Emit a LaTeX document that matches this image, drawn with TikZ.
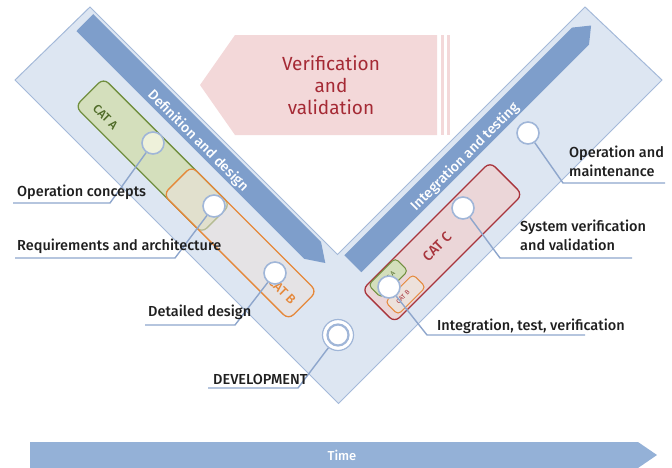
\documentclass[tikz,border=0pt]{standalone}
\usepackage{fontspec}
\setmainfont{Fira Sans}[BoldFont={Fira Sans Medium}]
\definecolor{armfill}{HTML}{DDE6F2}
\definecolor{armdraw}{HTML}{A4B9D9}
\definecolor{bandcol}{HTML}{7E9ECB}
\definecolor{timecol}{HTML}{94B1D7}
\definecolor{pinkfill}{HTML}{F3D8D9}
\definecolor{pinktext}{HTML}{A52A35}
\definecolor{greenfill}{HTML}{D4DFBC}
\definecolor{greendraw}{HTML}{718F3F}
\definecolor{greentext}{HTML}{4F6B28}
\definecolor{orangedraw}{HTML}{E5883A}
\definecolor{orangefill}{HTML}{EDE1DB}
\definecolor{redfill}{HTML}{EBD6D8}
\definecolor{reddraw}{HTML}{A8343C}
\definecolor{circdraw}{HTML}{A0B6D8}
\definecolor{leadcol}{HTML}{8EA6CC}
\definecolor{labtext}{HTML}{1F1F1F}
\begin{document}
\begin{tikzpicture}[x=1pt,y=-1pt,
  catbox/.style={draw, line width=1.3pt, rounded corners=7pt, inner sep=0pt},
  dot/.style={circle, draw=circdraw, line width=1.6pt, fill=white, minimum size=22pt, inner sep=0pt},
  lbl/.style={anchor=west, inner sep=0pt, text=labtext, font=\fontsize{14.5}{19}\selectfont\bfseries, align=left},
  lead/.style={draw=leadcol, line width=1.4pt},
  bandtext/.style={text=white, font=\fontsize{14}{16}\selectfont\bfseries, inner sep=0pt}
]
\useasboundingbox (0,0) rectangle (672,467);
% V shape
\draw[fill=armfill, draw=armdraw, line width=1pt]
  (15,80) -- (90,7) -- (337.5,254.5) -- (585,7) -- (662,80) -- (338.5,403.5) -- cycle;
% dark bands
\fill[bandcol] (76.4,31.1) -- (93.3,14.1) -- (321.0,241.8) -- (325.3,263.0) -- (304.1,258.8) -- cycle;
\fill[bandcol] (344.4,255.3) -- (361.3,272.2) -- (589.0,44.5) -- (591.1,25.5) -- (572.0,27.6) -- cycle;
\node[bandtext, rotate=-45] (tdef) at (198,141) {Definition and design};
\node[bandtext, rotate=45] (tint) at (465,157) {Integration and testing};
% pink verification arrow
\fill[pinkfill] (200,85) -- (235,35) -- (437,35) -- (437,135) -- (235,135) -- cycle;
\fill[pinkfill] (441,35) rectangle (444,135);
\fill[pinkfill] (447,35) rectangle (450,135);
\node[text=pinktext, align=center, font=\fontsize{19}{22}\selectfont] (vv) at (331,85) {Verification\\and\\validation};
% CAT boxes
\node[catbox, draw=greendraw, fill=greenfill, rotate=-45, minimum width=179pt, minimum height=40pt] (ca) at (152.7,155.6) {};
\node[catbox, draw=orangedraw, fill=orangefill, fill opacity=0.55, rotate=-45, minimum width=177pt, minimum height=40pt] (cb) at (240.1,242.9) {};
\node[text=greentext, rotate=-45, font=\fontsize{12}{14}\selectfont\bfseries, inner sep=0pt] (tca) at (105.4,116.7) {CAT A};
\node[text=orangedraw, rotate=-45, font=\fontsize{13}{15}\selectfont\bfseries, inner sep=0pt] (tcb) at (282.1,290.6) {CAT B};
\node[catbox, draw=reddraw, fill=redfill, rotate=45, minimum width=181pt, minimum height=46pt] (cc) at (442.3,242.2) {};
\node[text=reddraw, rotate=45, font=\fontsize{14}{16}\selectfont\bfseries, inner sep=0pt] (tcc) at (437,247) {CAT C};
\node[catbox, rounded corners=4pt, line width=1pt, draw=greendraw, fill=greenfill, rotate=45, minimum width=38pt, minimum height=18pt] (sa) at (388.2,277.9) {};
\node[text=greentext, rotate=45, font=\fontsize{6.5}{8}\selectfont, inner sep=0pt] (tsa) at (388.2,277.9) {CAT A};
\node[catbox, rounded corners=4pt, line width=1pt, draw=orangedraw, fill=orangefill, rotate=45, minimum width=39pt, minimum height=18pt] (sb) at (405.5,294.5) {};
\node[text=reddraw, rotate=45, font=\fontsize{6.5}{8}\selectfont, inner sep=0pt] (tsb) at (403,297) {CAT B};
% underline coordinates
\coordinate (u1a) at (13,203);  \coordinate (u1b) at (110,203);
\coordinate (u2a) at (15,258);  \coordinate (u2b) at (175,258);
\coordinate (u3a) at (145,325); \coordinate (u3b) at (235,325);
\coordinate (u4a) at (208,388); \coordinate (u4b) at (298,388);
\coordinate (u5a) at (427,335); \coordinate (u5b) at (585,335);
\coordinate (u6a) at (500,258); \coordinate (u6b) at (632,258);
\coordinate (u7a) at (563,183); \coordinate (u7b) at (665,183);
% circles
\node[dot, fill={rgb,255:red,238;green,241;blue,218}] (oc) at (153,143) {};
\node[dot] (ra) at (214,206) {};
\node[dot] (dd) at (275,273) {};
\node[circle, draw=circdraw, line width=1.2pt, fill=white, minimum size=31pt, inner sep=0pt] (devo) at (338,335) {};
\node[dot, line width=2.2pt, minimum size=21pt] (dev) at (338,335) {};
\node[dot] (itv) at (389,287) {};
\node[dot] (svv) at (463,208) {};
\node[dot] (om) at (528,133) {};
% leaders
\draw[lead] (oc) -- (u1b) -- (u1a);
\draw[lead] (ra) -- (u2b) -- (u2a);
\draw[lead] (dd) -- (u3b) -- (u3a);
\draw[lead] (devo) -- (u4b) -- (u4a);
\draw[lead] (itv) -- (u5a) -- (u5b);
\draw[lead] (svv) -- (u6a) -- (u6b);
\draw[lead] (om) -- (u7a) -- (u7b);
% labels
\node[lbl] (loc) at (17,192) {Operation concepts};
\node[lbl] (lra) at (17,246) {Requirements and architecture};
\node[lbl] (ldd) at (148,312) {Detailed design};
\node[lbl] (ldev) at (213,379) {DEVELOPMENT};
\node[lbl] (litv) at (437,326) {Integration, test, verification};
\node[lbl] (lsvv) at (520,235) {System verification\\and validation};
\node[lbl] (lom) at (569,161.5) {Operation and\\maintenance};
% time bar
\fill[timecol] (30,442) -- (638,442) -- (657,455) -- (638,468) -- (30,468) -- cycle;
\node[text=white, font=\fontsize{13}{15}\selectfont\bfseries, inner sep=0pt] (time) at (342,455) {Time};
\end{tikzpicture}
\end{document}
